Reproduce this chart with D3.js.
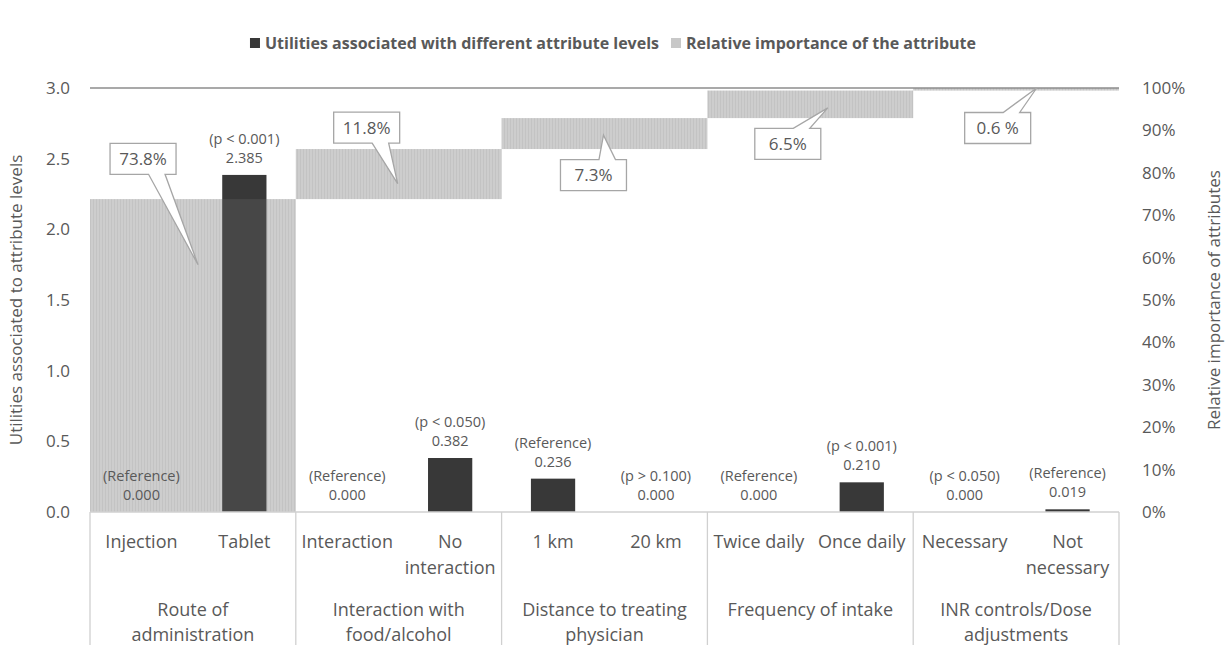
<!DOCTYPE html>
<html>
<head>
<meta charset="utf-8">
<script src="https://cdn.jsdelivr.net/npm/d3@7"></script>
<style>
  body { margin: 0; background: #fff; }
  svg text { font-family: "Open Sans", "Noto Sans", sans-serif; fill: #595959; }
</style>
</head>
<body>
<svg id="chart" width="1226" height="645"></svg>
<script>
// attribute levels (x categories) and their utilities
var levels = ["Injection", "Tablet", "Interaction", "No\ninteraction", "1 km", "20 km",
              "Twice daily", "Once daily", "Necessary", "Not\nnecessary"];
var utilities = [0.000, 2.385, 0.000, 0.382, 0.236, 0.000, 0.000, 0.210, 0.000, 0.019];
var pLabels = ["(Reference)", "(p < 0.001)", "(Reference)", "(p < 0.050)", "(Reference)",
               "(p > 0.100)", "(Reference)", "(p < 0.001)", "(p < 0.050)", "(Reference)"];

// attributes and their relative importance (%)
var attributes = ["Route of\nadministration", "Interaction with\nfood/alcohol",
                  "Distance to treating\nphysician", "Frequency of intake",
                  "INR controls/Dose\nadjustments"];
var importance = [73.8, 11.8, 7.3, 6.5, 0.6];
var importanceLabels = ["73.8%", "11.8%", "7.3%", "6.5%", "0.6 %"];

var leftTicks = [0, 0.5, 1.0, 1.5, 2.0, 2.5, 3.0];
var rightTicks = [0, 10, 20, 30, 40, 50, 60, 70, 80, 90, 100];

var legendLabels = ["Utilities associated with different attribute levels",
                    "Relative importance of the attribute"];

// callout placement: tip as fraction across the attribute span / up its bar, box offset from tip
var calloutLayout = [
    { fx: 0.525, fy: 0.79, dx: -55, dy: -106 },
    { fx: 0.495, fy: 0.31, dx: -31, dy: -56 },
    { fx: 0.495, fy: 0.45, dx: -10, dy: 40 },
    { fx: 0.585, fy: 0.37, dx: -40, dy: 36 },
    { fx: 0.60,  fy: 1.00, dx: -39, dy: 40 }
];

(function () {
    var svg = d3.select("#chart");
    var plotLeft = 90, plotRight = 1119, plotTop = 88, base = 512;

    var x = d3.scaleBand().domain(levels).range([plotLeft, plotRight]).paddingInner(0);
    var y = d3.scaleLinear().domain([0, 3]).range([base, plotTop]);
    var yPct = d3.scaleLinear().domain([0, 100]).range([base, plotTop]);
    var barW = x.bandwidth() * 0.43;

    // hatch for the importance bars
    var defs = svg.append("defs");
    var pat = defs.append("pattern").attr("id", "hatch")
        .attr("patternUnits", "userSpaceOnUse").attr("width", 3).attr("height", 4);
    pat.append("rect").attr("width", 3).attr("height", 4).attr("fill", "#cdcdcd");
    pat.append("rect").attr("width", 1).attr("height", 4).attr("fill", "#c2c2c2");

    // waterfall of relative importance
    var cum = [];
    importance.reduce(function (a, b) { cum.push([a, a + b]); return a + b; }, 0);
    var groupX = function (i) { return x(levels[2 * i]); };
    var groupW = x.bandwidth() * 2;

    var wf = cum.map(function (c, i) {
        return { x0: groupX(i), y0: yPct(c[1]), h: yPct(c[0]) - yPct(c[1]) };
    });

    svg.append("g").selectAll("rect").data(wf).enter().append("rect")
        .attr("x", function (d) { return d.x0; })
        .attr("y", function (d) { return d.y0; })
        .attr("width", groupW)
        .attr("height", function (d) { return Math.max(d.h, 1); })
        .attr("fill", "url(#hatch)");

    // utility bars
    svg.append("g").selectAll("rect").data(utilities).enter().append("rect")
        .attr("x", function (d, i) { return x(levels[i]) + (x.bandwidth() - barW) / 2; })
        .attr("y", function (d) { return y(d); })
        .attr("width", barW)
        .attr("height", function (d) { return base - y(d); })
        .attr("fill", "#383838");

    // faint veil of the importance layer over the dark bars
    svg.append("g").selectAll("rect").data(wf).enter().append("rect")
        .attr("x", function (d) { return d.x0; })
        .attr("y", function (d) { return d.y0; })
        .attr("width", groupW)
        .attr("height", function (d) { return Math.max(d.h, 1); })
        .attr("fill", "#cdcdcd").attr("opacity", 0.1);

    // top line at 3.0 / 100%
    svg.append("line")
        .attr("x1", plotLeft).attr("x2", plotRight)
        .attr("y1", y(3)).attr("y2", y(3))
        .attr("stroke", "#8c8c8c").attr("stroke-width", 1.3);

    // value labels
    var vl = svg.append("g").attr("text-anchor", "middle").style("font-size", "14.5px");
    utilities.forEach(function (v, i) {
        var cx = x(levels[i]) + x.bandwidth() / 2;
        vl.append("text").attr("x", cx).attr("y", y(v) - 31).text(pLabels[i]);
        vl.append("text").attr("x", cx).attr("y", y(v) - 12).text(d3.format(".3f")(v));
    });

    // axes
    var axL = svg.append("g").attr("transform", "translate(" + plotLeft + ",0)")
        .call(d3.axisLeft(y).tickValues(leftTicks).tickFormat(d3.format(".1f")).tickSize(0).tickPadding(20));
    var axR = svg.append("g").attr("transform", "translate(" + plotRight + ",0)")
        .call(d3.axisRight(yPct).tickValues(rightTicks).tickFormat(function (d) { return d + "%"; })
            .tickSize(0).tickPadding(23));
    [axL, axR].forEach(function (a) {
        a.select(".domain").remove();
        a.selectAll("text").style("font-size", "17px").style("font-family", null).attr("fill", null);
    });

    svg.append("text")
        .attr("transform", "translate(22," + (plotTop + base) / 2 + ") rotate(-90)")
        .attr("text-anchor", "middle").style("font-size", "17px")
        .text("Utilities associated to attribute levels");
    svg.append("text")
        .attr("transform", "translate(1220," + (plotTop + base) / 2 + ") rotate(-90)")
        .attr("text-anchor", "middle").style("font-size", "17px")
        .text("Relative importance of attributes");

    // category table under the plot
    var tbl = svg.append("g");
    tbl.append("line").attr("x1", plotLeft).attr("x2", plotRight).attr("y1", base).attr("y2", base)
        .attr("stroke", "#d0d0d0").attr("stroke-width", 1.3);
    d3.range(attributes.length + 1).forEach(function (i) {
        var gx = plotLeft + i * groupW;
        tbl.append("line").attr("x1", gx).attr("x2", gx).attr("y1", base).attr("y2", 645)
            .attr("stroke", "#d0d0d0").attr("stroke-width", 1.3);
    });

    function multiline(g, str, cx, y0, lh) {
        var t = g.append("text").attr("x", cx).attr("y", y0).attr("text-anchor", "middle")
            .style("font-size", "18px");
        str.split("\n").forEach(function (s, k) {
            t.append("tspan").attr("x", cx).attr("dy", k === 0 ? 0 : lh).text(s);
        });
    }
    levels.forEach(function (l) {
        multiline(tbl, l, x(l) + x.bandwidth() / 2, 548, 26);
    });
    attributes.forEach(function (a, i) {
        multiline(tbl, a, groupX(i) + groupW / 2, 616, 25);
    });

    // callouts
    var bw = 66, bh = 31;
    var co = svg.append("g");
    importance.forEach(function (v, i) {
        var L = calloutLayout[i];
        var tx = groupX(i) + groupW * L.fx;
        var ty = yPct(cum[i][0] + (cum[i][1] - cum[i][0]) * L.fy);
        var cx = tx + L.dx, cy = ty + L.dy;
        var x0 = cx - bw / 2, x1 = cx + bw / 2, y0 = cy - bh / 2, y1 = cy + bh / 2;
        var bl, br;
        if (L.dx > 0) { bl = x0 + bw * 2 / 12; br = x0 + bw * 5 / 12; }
        else { bl = x0 + bw * 7 / 12; br = x0 + bw * 10 / 12; }
        var p = d3.path();
        if (ty > cy) {
            p.moveTo(x0, y0); p.lineTo(x1, y0); p.lineTo(x1, y1); p.lineTo(br, y1);
            p.lineTo(tx, ty); p.lineTo(bl, y1); p.lineTo(x0, y1); p.closePath();
        } else {
            p.moveTo(x0, y1); p.lineTo(x0, y0); p.lineTo(bl, y0); p.lineTo(tx, ty);
            p.lineTo(br, y0); p.lineTo(x1, y0); p.lineTo(x1, y1); p.closePath();
        }
        co.append("path").attr("d", p.toString())
            .attr("fill", "#fff").attr("stroke", "#a6a6a6").attr("stroke-width", 1.3);
        co.append("text").attr("x", cx).attr("y", cy + 6).attr("text-anchor", "middle")
            .style("font-size", "17px").text(importanceLabels[i]);
    });

    // legend
    var leg = svg.append("g").style("font-size", "16px").style("font-weight", "bold");
    var colors = ["#383838", "#c8c8c8"];
    var items = [], cursor = 0;
    legendLabels.forEach(function (t, i) {
        var g = leg.append("g");
        g.append("rect").attr("width", 10).attr("height", 10).attr("y", -11).attr("fill", colors[i]);
        var tx = g.append("text").attr("x", 15).attr("y", 0).text(t);
        var w = 15 + tx.node().getComputedTextLength();
        items.push({ g: g, x: cursor });
        cursor += w + 12;
    });
    var total = cursor - 12;
    items.forEach(function (it) {
        it.g.attr("transform", "translate(" + (613 - total / 2 + it.x) + ",49)");
    });
})();
</script>
</body>
</html>
